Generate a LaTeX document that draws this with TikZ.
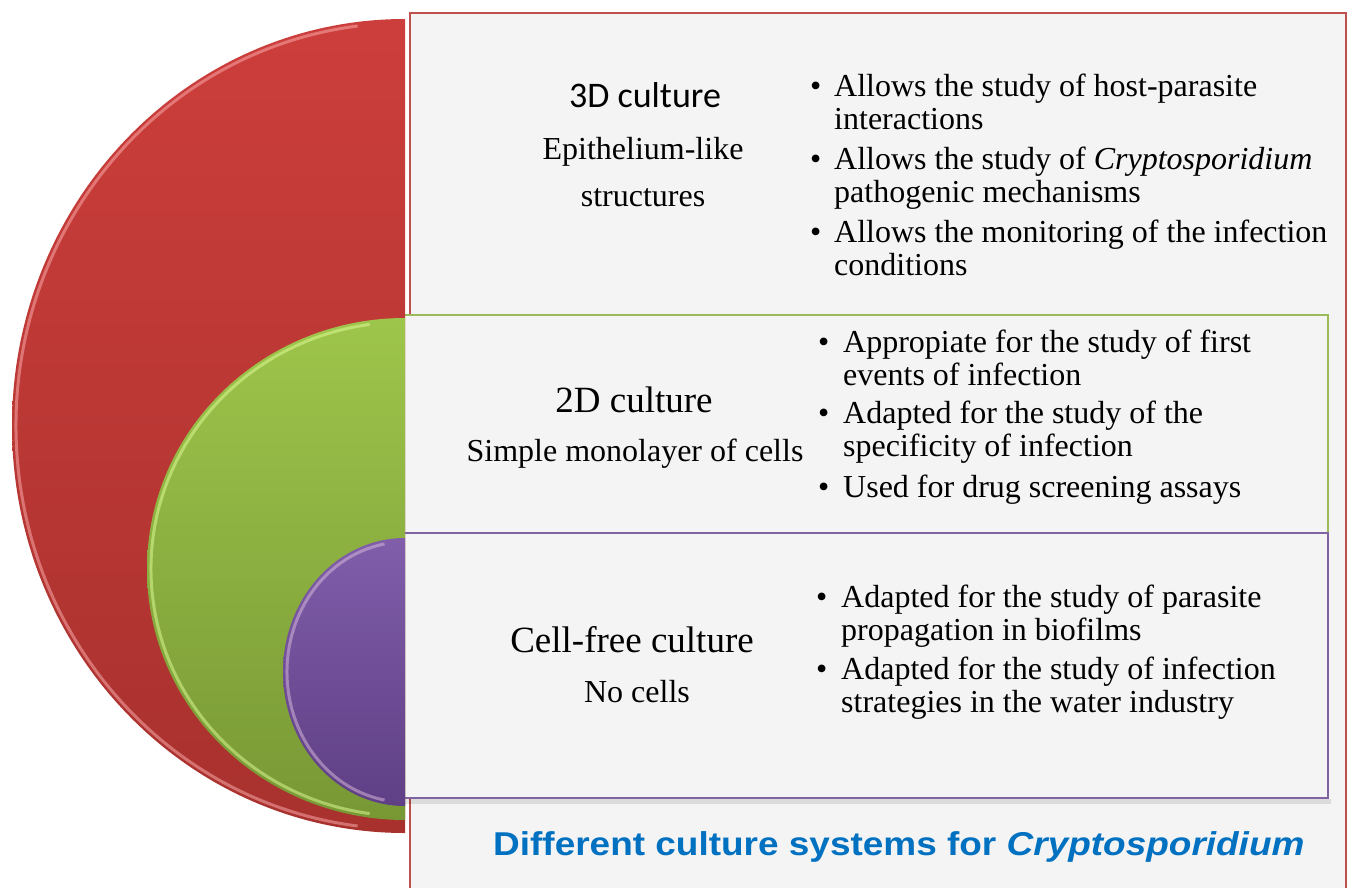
\documentclass[tikz,border=0pt]{standalone}
\usepackage{fontspec}
\setmainfont{Liberation Serif}
\newfontfamily\calibrifont{Carlito}
\newfontfamily\arialfont{Liberation Sans}
\usepackage{array}
\definecolor{boxbg}{HTML}{F4F4F4}
\definecolor{redline}{HTML}{C0504D}
\definecolor{greenline}{HTML}{9BBB59}
\definecolor{purpleline}{HTML}{8064A2}
\definecolor{redtop}{HTML}{CC3E3B}
\definecolor{redbot}{HTML}{A8312E}
\definecolor{greentop}{HTML}{9EC54B}
\definecolor{greenbot}{HTML}{789835}
\definecolor{purptop}{HTML}{805EAA}
\definecolor{purpbot}{HTML}{5F3F85}
\definecolor{titleblue}{HTML}{0070C0}
\newcommand{\bulletitem}[3]{\begin{tabular}[t]{@{}p{#1}@{}l@{}}\textbullet & #2\\ & #3\end{tabular}}
\begin{document}
\begin{tikzpicture}[x=1pt,y=-1pt,
  panel/.style={fill=boxbg, line width=1.5pt},
  headtext/.style={anchor=base, font=\fontsize{37}{40}\selectfont},
  subtext/.style={anchor=base, font=\fontsize{32}{46}\selectfont, align=center},
  bultext/.style={anchor=base west, inner sep=0pt, font=\fontsize{32}{33}\selectfont},
  hilite/.style={line width=3pt, opacity=0.5}]
\useasboundingbox (0,0) rectangle (1349,888);
\fill[white] (0,0) rectangle (1349,888);
% panels
\draw[panel, draw=redline] (410,13) rectangle (1346,892);
\draw[panel, draw=greenline] (404,315) rectangle (1328,533);
\fill[black, opacity=0.10] (404,799) rectangle (1331,804);
\draw[panel, draw=purpleline] (402,533) rectangle (1328,798);
% half discs
\shade[top color=redtop, bottom color=redbot] (405,19) arc[start angle=270, end angle=90, x radius=393, y radius=407] -- cycle;
\draw[hilite, color=red!30!white] (405,426) ++(263:389 and 403) arc[start angle=263, end angle=97, x radius=389, y radius=403];
\shade[top color=greentop, bottom color=greenbot] (405,318) arc[start angle=270, end angle=90, x radius=258, y radius=251] -- cycle;
\draw[hilite, color=green!30!yellow!40!white] (405,569) ++(262:254 and 247) arc[start angle=262, end angle=98, x radius=254, y radius=247];
\shade[top color=purptop, bottom color=purpbot] (405,538) arc[start angle=270, end angle=90, x radius=122, y radius=134] -- cycle;
\draw[hilite, color=violet!25!white] (405,672) ++(260:118 and 130) arc[start angle=260, end angle=100, x radius=118, y radius=130];
% top panel texts
\node[anchor=base, font=\calibrifont\fontsize{36}{40}\selectfont] (t3d) at (645,108) {3D culture};
\node[subtext] (s3da) at (643,160) {Epithelium-like};
\node[subtext] (s3db) at (643,206) {structures};
\node[bultext] (b3a) at (810,97) {\bulletitem{24pt}{Allows the study of host-parasite}{interactions}};
\node[bultext] (b3b) at (810,169) {\bulletitem{24pt}{Allows the study of \textit{Cryptosporidium}}{pathogenic mechanisms}};
\node[bultext] (b3c) at (810,242) {\bulletitem{24pt}{Allows the monitoring of the infection}{conditions}};
% middle panel texts
\node[headtext] (t2d) at (634,412) {2D culture};
\node[subtext] (s2d) at (635,461) {Simple monolayer of cells};
\node[bultext] (b2a) at (818,352) {\bulletitem{25pt}{Appropiate for the study of first}{events of infection}};
\node[bultext] (b2b) at (818,423) {\bulletitem{25pt}{Adapted for the study of the}{specificity of infection}};
\node[bultext] (b2c) at (818,497) {\begin{tabular}[t]{@{}p{25pt}@{}l@{}}\textbullet & Used for drug screening assays\end{tabular}};
% bottom panel texts
\node[headtext] (tcf) at (632,652) {Cell-free culture};
\node[subtext] (scf) at (637,702) {No cells};
\node[bultext] (bca) at (816,607) {\bulletitem{25pt}{Adapted for the study of parasite}{propagation in biofilms}};
\node[bultext] (bcb) at (816,679) {\bulletitem{25pt}{Adapted for the study of infection}{strategies in the water industry}};
% caption
\node[anchor=base west, inner sep=0pt, text=titleblue, transform shape, xscale=1.12, font=\arialfont\bfseries\fontsize{33}{36}\selectfont] (cap) at (493,855) {Different culture systems for \textit{Cryptosporidium}};
\end{tikzpicture}
\end{document}
